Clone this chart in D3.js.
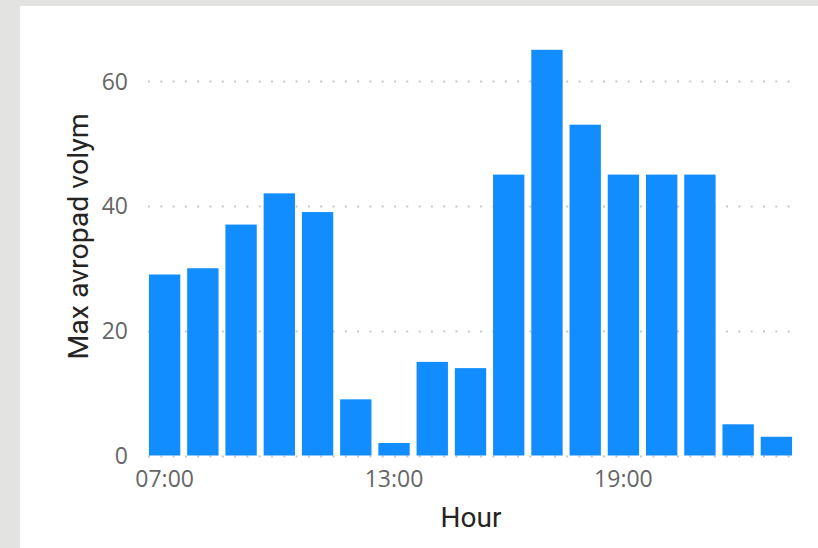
<!DOCTYPE html>
<html><head><meta charset="utf-8">
<script src="https://cdn.jsdelivr.net/npm/d3@7"></script>
<style>
html,body{margin:0;padding:0;background:#fff;}
svg{display:block;}
</style></head>
<body>
<svg id="c" width="818" height="548"></svg>
<script>
const hours = ["07:00","08:00","09:00","10:00","11:00","12:00","13:00","14:00","15:00","16:00","17:00","18:00","19:00","20:00","21:00","22:00","23:00"];
const values = [29,30,37,42,39,9,2,15,14,45,65,53,45,45,45,5,3];
const xTickLabels = ["07:00","13:00","19:00"];
const yTicks = [0,20,40,60];
const yTitle = "Max avropad volym";
const xTitle = "Hour";

const svg = d3.select("#c");
svg.append("rect").attr("x",0).attr("y",0).attr("width",818).attr("height",548).attr("fill","#e3e3e1");
svg.append("rect").attr("x",20).attr("y",6).attr("width",798).attr("height",542).attr("fill","#ffffff");

const x = d3.scaleBand().domain(hours).range([145.5,795.5]).paddingInner(0.18).paddingOuter(0.09);
const y = d3.scaleLinear().domain([0,60]).range([455.5,81]);

// grid
const grid = svg.append("g");
grid.selectAll("line").data(yTicks).join("line")
  .attr("x1",148).attr("x2",795)
  .attr("y1",d=>Math.round(y(d))+0.5).attr("y2",d=>Math.round(y(d))+0.5)
  .attr("stroke","#c8c8c8").attr("stroke-width",2)
  .attr("stroke-dasharray","2,10.3");

// bars
svg.append("g").selectAll("rect").data(values).join("rect")
  .attr("x",(d,i)=>x(hours[i]))
  .attr("width",x.bandwidth())
  .attr("y",d=>y(d))
  .attr("height",d=>y(0)-y(d))
  .attr("fill","#118DFF");

// y axis
const yAxis = d3.axisLeft(y).tickValues(yTicks).tickSize(0).tickPadding(0).tickFormat(d3.format("d"));
const gy = svg.append("g").attr("transform","translate(128,0)").call(yAxis);
gy.select(".domain").remove();
gy.selectAll("text").attr("font-family","'Segoe UI','Open Sans',sans-serif").attr("font-size",23).attr("fill","#666666").attr("dy","0.35em");

// x axis
const xAxis = d3.axisBottom(x).tickValues(xTickLabels).tickSize(0).tickPadding(0);
const gx = svg.append("g").attr("transform","translate(0,471)").call(xAxis);
gx.select(".domain").remove();
gx.selectAll("text").attr("font-family","'Segoe UI','Open Sans',sans-serif").attr("font-size",23).attr("fill","#666666").attr("dy","0.71em");

// titles
svg.append("text").attr("x",471).attr("y",527).attr("text-anchor","middle")
  .attr("font-family","Roboto,sans-serif").attr("font-size",28).attr("fill","#252423").text(xTitle);
svg.append("text").attr("transform","translate(88,236.5) rotate(-90)").attr("text-anchor","middle")
  .attr("font-family","Roboto,sans-serif").attr("font-size",28.5).attr("fill","#252423").text(yTitle);
</script>
</body></html>
